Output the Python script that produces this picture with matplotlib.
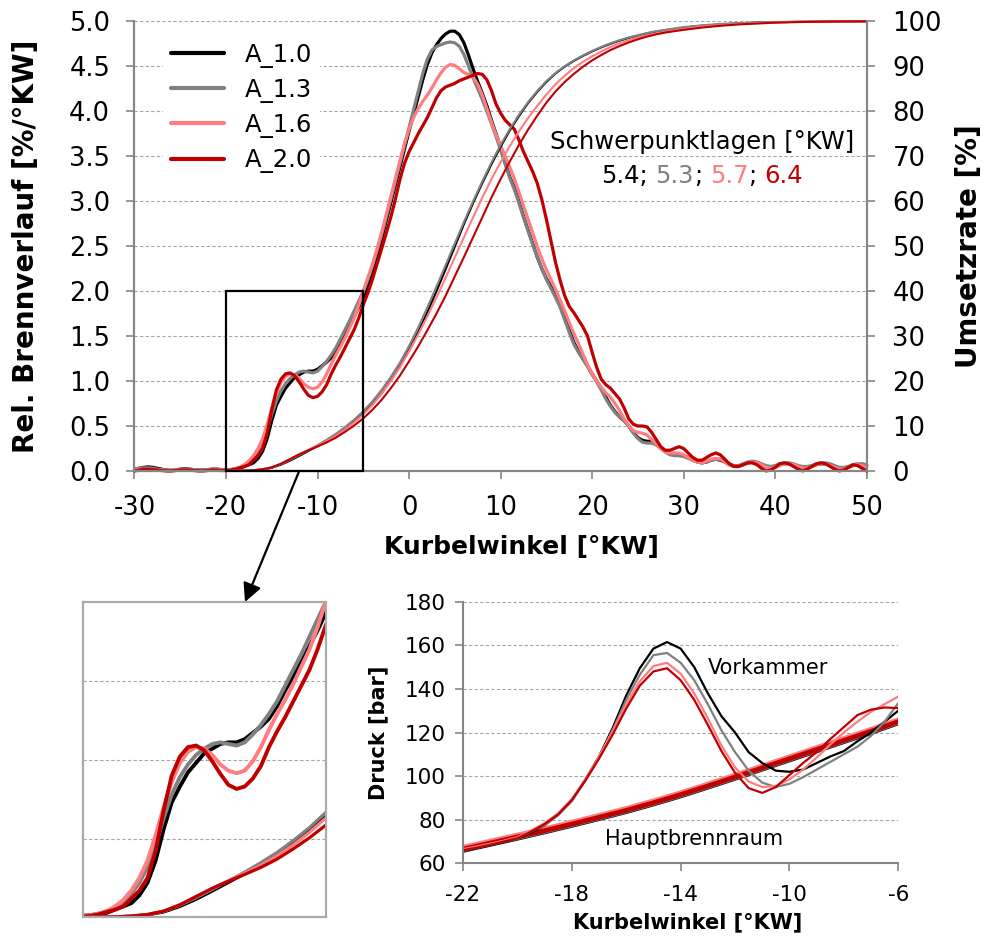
import numpy as np
import matplotlib
matplotlib.use("Agg")
import matplotlib.pyplot as plt
from matplotlib.patches import Rectangle, ConnectionPatch
from matplotlib.offsetbox import TextArea, HPacker, AnnotationBbox

plt.rcParams['font.family'] = ['DejaVu Sans']
plt.rcParams['axes.unicode_minus'] = False

# ---------------- data ----------------
LABELS = ["A_1.0", "A_1.3", "A_1.6", "A_2.0"]
COLORS = ["#000000", "#808080", "#FF7C80", "#C00000"]

# crank angle grid of the burn-rate curves (0.5 deg steps, -30 ... 50)
CA = np.arange(-30, 50.5, 0.5)

BR_10 = [0.02, 0.03, 0.04, 0.045, 0.04, 0.03, 0.02, 0.01, 0.005, 0.01,
         0.02, 0.025, 0.02, 0.015, 0.01, 0.01, 0.015, 0.02, 0.02, 0.015,
         0.01, 0.015, 0.02, 0.03, 0.05, 0.07, 0.09, 0.14, 0.22, 0.36,
         0.56, 0.73, 0.83, 0.92, 0.98, 1.04, 1.07, 1.10, 1.11, 1.11,
         1.13, 1.17, 1.21, 1.26, 1.34, 1.44, 1.53, 1.62, 1.72, 1.82,
         1.93, 2.06, 2.22, 2.40, 2.58, 2.78, 2.98, 3.18, 3.38, 3.58,
         3.78, 3.97, 4.16, 4.35, 4.52, 4.65, 4.74, 4.81, 4.86, 4.89,
         4.89, 4.85, 4.76, 4.62, 4.47, 4.33, 4.20, 4.06, 3.90, 3.75,
         3.60, 3.43, 3.27, 3.15, 3.00, 2.83, 2.68, 2.53, 2.38, 2.25,
         2.14, 2.05, 1.95, 1.85, 1.72, 1.57, 1.43, 1.33, 1.25, 1.17,
         1.08, 1.00, 0.92, 0.82, 0.73, 0.66, 0.60, 0.56, 0.50, 0.43,
         0.37, 0.34, 0.33, 0.33, 0.30, 0.26, 0.22, 0.19, 0.18, 0.18,
         0.17, 0.15, 0.12, 0.10, 0.09, 0.10, 0.12, 0.13, 0.12, 0.10,
         0.07, 0.05, 0.05, 0.07, 0.09, 0.10, 0.09, 0.07, 0.05, 0.04,
         0.05, 0.07, 0.08, 0.08, 0.07, 0.05, 0.04, 0.04, 0.05, 0.07,
         0.08, 0.08, 0.07, 0.05, 0.03, 0.03, 0.04, 0.06, 0.07, 0.07,
         0.06]
BR_13 = [0.02, 0.03, 0.035, 0.035, 0.03, 0.02, 0.015, 0.01, 0.01, 0.015,
         0.02, 0.02, 0.02, 0.015, 0.01, 0.01, 0.015, 0.02, 0.02, 0.015,
         0.01, 0.015, 0.025, 0.04, 0.06, 0.10, 0.15, 0.22, 0.32, 0.46,
         0.63, 0.78, 0.89, 0.97, 1.03, 1.07, 1.10, 1.11, 1.10, 1.09,
         1.11, 1.16, 1.22, 1.29, 1.37, 1.47, 1.57, 1.67, 1.78, 1.89,
         2.00, 2.13, 2.28, 2.45, 2.63, 2.82, 3.02, 3.22, 3.42, 3.62,
         3.82, 4.02, 4.22, 4.42, 4.58, 4.68, 4.72, 4.74, 4.76, 4.77,
         4.76, 4.72, 4.63, 4.50, 4.37, 4.25, 4.13, 4.00, 3.86, 3.72,
         3.57, 3.41, 3.26, 3.13, 2.98, 2.82, 2.67, 2.52, 2.38, 2.25,
         2.13, 2.03, 1.93, 1.82, 1.68, 1.54, 1.41, 1.32, 1.24, 1.16,
         1.07, 0.99, 0.90, 0.80, 0.72, 0.65, 0.60, 0.56, 0.50, 0.42,
         0.36, 0.32, 0.31, 0.31, 0.29, 0.25, 0.21, 0.18, 0.17, 0.17,
         0.16, 0.14, 0.12, 0.10, 0.09, 0.10, 0.12, 0.13, 0.13, 0.11,
         0.08, 0.06, 0.06, 0.08, 0.10, 0.11, 0.10, 0.08, 0.06, 0.05,
         0.06, 0.08, 0.09, 0.09, 0.08, 0.06, 0.05, 0.05, 0.06, 0.08,
         0.09, 0.09, 0.08, 0.06, 0.04, 0.04, 0.05, 0.07, 0.08, 0.08,
         0.07]
BR_16 = [0.01, 0.015, 0.02, 0.025, 0.02, 0.015, 0.01, 0.005, 0.005, 0.01,
         0.01, 0.015, 0.01, 0.01, 0.005, 0.005, 0.01, 0.01, 0.015, 0.01,
         0.01, 0.015, 0.025, 0.04, 0.07, 0.11, 0.17, 0.25, 0.36, 0.52,
         0.70, 0.86, 0.98, 1.05, 1.08, 1.07, 1.03, 0.97, 0.93, 0.915,
         0.93, 0.99, 1.08, 1.19, 1.29, 1.38, 1.48, 1.59, 1.70, 1.84,
         2.00, 2.15, 2.30, 2.47, 2.65, 2.85, 3.05, 3.25, 3.45, 3.64,
         3.80, 3.93, 4.03, 4.11, 4.18, 4.26, 4.35, 4.43, 4.49, 4.52,
         4.51, 4.47, 4.43, 4.41, 4.38, 4.30, 4.18, 4.03, 3.88, 3.74,
         3.62, 3.50, 3.38, 3.25, 3.10, 2.95, 2.80, 2.65, 2.50, 2.36,
         2.24, 2.13, 2.02, 1.90, 1.78, 1.65, 1.53, 1.42, 1.30, 1.18,
         1.08, 1.00, 0.93, 0.87, 0.82, 0.75, 0.67, 0.58, 0.50, 0.45,
         0.43, 0.42, 0.40, 0.35, 0.30, 0.25, 0.21, 0.20, 0.20, 0.20,
         0.18, 0.15, 0.12, 0.10, 0.09, 0.11, 0.13, 0.14, 0.13, 0.10,
         0.07, 0.05, 0.05, 0.07, 0.09, 0.10, 0.09, 0.07, 0.04, 0.03,
         0.04, 0.06, 0.08, 0.08, 0.07, 0.05, 0.03, 0.03, 0.05, 0.07,
         0.08, 0.08, 0.06, 0.04, 0.02, 0.02, 0.04, 0.06, 0.07, 0.06,
         0.04]
BR_20 = [0.00, 0.01, 0.02, 0.02, 0.015, 0.01, 0.005, 0.00, 0.00, 0.005,
         0.01, 0.01, 0.01, 0.005, 0.00, 0.00, 0.005, 0.01, 0.01, 0.005,
         0.005, 0.01, 0.02, 0.035, 0.05, 0.07, 0.12, 0.17, 0.25, 0.42,
         0.68, 0.90, 1.02, 1.08, 1.09, 1.06, 0.99, 0.91, 0.84, 0.815,
         0.83, 0.88, 0.96, 1.08, 1.18, 1.27, 1.37, 1.47, 1.57, 1.70,
         1.85, 1.98, 2.13, 2.30, 2.47, 2.64, 2.82, 3.02, 3.24, 3.42,
         3.55, 3.65, 3.75, 3.84, 3.93, 4.04, 4.15, 4.23, 4.27, 4.29,
         4.31, 4.34, 4.36, 4.38, 4.40, 4.42, 4.41, 4.35, 4.23, 4.08,
         3.98, 3.90, 3.85, 3.80, 3.68, 3.55, 3.44, 3.33, 3.20, 3.02,
         2.80, 2.56, 2.32, 2.12, 1.95, 1.83, 1.76, 1.68, 1.60, 1.50,
         1.32, 1.15, 1.02, 0.96, 0.92, 0.86, 0.80, 0.70, 0.58, 0.52,
         0.50, 0.50, 0.49, 0.43, 0.35, 0.27, 0.23, 0.23, 0.25, 0.27,
         0.25, 0.20, 0.15, 0.12, 0.12, 0.15, 0.18, 0.20, 0.18, 0.13,
         0.08, 0.05, 0.05, 0.07, 0.09, 0.09, 0.07, 0.03, 0.00, 0.01,
         0.04, 0.08, 0.09, 0.08, 0.05, 0.02, 0.00, 0.02, 0.05, 0.08,
         0.09, 0.08, 0.05, 0.02, 0.00, 0.01, 0.04, 0.07, 0.06, 0.03,
         0.00]

# cumulative heat release (Umsetzrate, %)
CA_CUM = [-30, -25, -20,
          -19, -18, -17, -16, -15, -14, -13, -12, -11, -10,
          -9, -8, -7, -6, -5, -4, -3, -2, -1, 0,
          1, 2, 3, 4, 5, 6, 7, 8, 9, 10,
          11, 12, 13, 14, 15, 16, 17, 18, 19, 20,
          21, 22, 23, 24, 25, 26, 27, 28, 29, 30,
          32, 34, 36, 38, 40, 43, 46, 50]
UR_10 = [0, 0, 0,
         0.02, 0.06, 0.15, 0.32, 0.70, 1.40, 2.30, 3.35, 4.45, 5.55,
         6.70, 7.95, 9.40, 11.0, 12.8, 14.9, 17.3, 20.1, 23.3, 26.9,
         30.9, 35.3, 40.0, 44.9, 49.9, 54.9, 59.6, 64.0, 68.2, 72.1,
         75.7, 78.9, 81.8, 84.3, 86.5, 88.4, 89.9, 91.2, 92.3, 93.3,
         94.2, 95.0, 95.7, 96.3, 96.8, 97.3, 97.7, 98.0, 98.3, 98.6,
         99.0, 99.3, 99.55, 99.7, 99.8, 99.9, 99.95, 100]
UR_13 = [0, 0, 0,
         0.02, 0.07, 0.17, 0.38, 0.80, 1.55, 2.50, 3.55, 4.65, 5.75,
         6.95, 8.25, 9.75, 11.4, 13.3, 15.5, 18.0, 20.9, 24.1, 27.8,
         31.9, 36.4, 41.0, 45.8, 50.6, 55.4, 60.0, 64.4, 68.6, 72.5,
         76.0, 79.2, 82.0, 84.5, 86.7, 88.5, 90.0, 91.3, 92.4, 93.4,
         94.3, 95.1, 95.8, 96.4, 96.9, 97.4, 97.8, 98.1, 98.4, 98.7,
         99.1, 99.4, 99.6, 99.75, 99.85, 99.9, 99.95, 100]
UR_16 = [0, 0, 0,
         0.02, 0.07, 0.17, 0.38, 0.80, 1.60, 2.65, 3.70, 4.65, 5.60,
         6.60, 7.80, 9.20, 10.8, 12.6, 14.7, 17.2, 20.0, 23.1, 26.6,
         30.4, 34.4, 38.6, 43.0, 47.5, 52.0, 56.4, 60.8, 64.9, 68.7,
         72.2, 75.5, 78.5, 81.2, 83.7, 86.0, 87.9, 89.6, 91.0, 92.2,
         93.3, 94.3, 95.1, 95.8, 96.4, 96.9, 97.3, 97.7, 98.0, 98.3,
         98.8, 99.1, 99.4, 99.6, 99.75, 99.9, 99.95, 100]
UR_20 = [0, 0, 0,
         0.02, 0.07, 0.17, 0.37, 0.80, 1.60, 2.65, 3.70, 4.60, 5.45,
         6.35, 7.40, 8.70, 10.1, 11.7, 13.6, 15.8, 18.4, 21.2, 24.4,
         27.7, 31.3, 35.0, 39.0, 43.3, 47.6, 52.0, 56.4, 60.8, 64.9,
         68.8, 72.5, 75.9, 79.0, 81.9, 84.4, 86.5, 88.3, 89.9, 91.3,
         92.5, 93.6, 94.5, 95.3, 96.0, 96.6, 97.1, 97.5, 97.8, 98.1,
         98.6, 99.0, 99.3, 99.5, 99.7, 99.85, 99.95, 100]

SCHWERPUNKT = ["5.4", "5.3", "5.7", "6.4"]

# pressure traces
P_CA = np.arange(-22, -5.5, 0.5)
VK_10 = [65.8, 67.0, 68.3, 69.8, 71.5, 74.0, 77.5, 82.5, 89.0, 98.5,
         109.0, 122.0, 137.0, 149.5, 158.5, 161.5, 158.5, 150.0, 138.0, 127.5,
         120.0, 111.0, 106.0, 102.5, 102.0, 103.0, 106.0, 109.0, 111.5, 116.0,
         120.0, 125.0, 130.0]
VK_13 = [66.0, 67.2, 68.5, 70.0, 71.5, 74.5, 77.5, 82.0, 88.5, 98.0,
         108.5, 121.0, 135.0, 146.5, 155.5, 156.5, 152.0, 144.0, 133.0, 121.0,
         111.0, 102.5, 97.0, 95.0, 96.5, 99.5, 103.0, 106.5, 110.0, 113.5,
         118.5, 125.0, 133.5]
VK_16 = [66.5, 67.7, 69.0, 70.4, 72.0, 75.0, 78.5, 83.0, 89.5, 98.5,
         109.0, 120.5, 133.0, 143.5, 150.5, 152.0, 147.0, 138.0, 126.5, 114.0,
         104.0, 97.5, 95.0, 95.5, 98.5, 103.0, 108.5, 114.5, 120.0, 125.0,
         129.5, 133.0, 136.5]
VK_20 = [66.0, 67.2, 68.5, 70.0, 71.5, 74.5, 78.0, 82.5, 89.0, 98.0,
         108.0, 119.0, 131.0, 141.5, 148.0, 149.5, 144.0, 135.0, 123.5, 111.5,
         101.5, 94.5, 92.3, 95.0, 100.5, 106.0, 111.0, 117.0, 122.5, 128.0,
         130.5, 131.5, 131.2]
P_CA_HB = np.arange(-22, -5, 1.0)
HB_10 = [65.9, 68.7, 71.5, 74.4, 77.4, 80.5, 83.7, 87.2, 90.9, 94.9, 99.0, 103.2, 107.4, 111.6, 115.8, 120.0, 124.4]
HB_13 = [66.2, 69.0, 71.8, 74.7, 77.7, 80.8, 84.0, 87.5, 91.2, 95.2, 99.3, 103.5, 107.7, 111.9, 116.1, 120.3, 124.7]
HB_16 = [67.4, 70.2, 73.0, 75.9, 78.9, 82.0, 85.2, 88.7, 92.4, 96.4, 100.5, 104.7, 108.9, 113.1, 117.3, 121.5, 125.9]
HB_20 = [66.5, 69.3, 72.1, 75.0, 78.0, 81.1, 84.3, 87.8, 91.5, 95.5, 99.6, 103.8, 108.0, 112.2, 116.4, 120.6, 125.0]

BR = [BR_10, BR_13, BR_16, BR_20]
UR = [UR_10, UR_13, UR_16, UR_20]
VK = [VK_10, VK_13, VK_16, VK_20]
HB = [HB_10, HB_13, HB_16, HB_20]

# ---------------- style ----------------
SPINE = "#868686"
GRID = "#a6a6a6"
TICK_FS = 18.5
XLAB_FS = 18
YLAB_FS = 20
P_FS = 15.5

fig = plt.figure(figsize=(9.83, 9.38), dpi=100)

# ---- main chart ----
ax = fig.add_axes([0.1368, 0.4979, 0.7449, 0.4794])
ax2 = ax.twinx()

for y, c, lab in zip(BR, COLORS, LABELS):
    ax.plot(CA, y, color=c, lw=2.3, label=lab, clip_on=False, solid_capstyle='round')
for y, c in zip(UR, COLORS):
    ax2.plot(CA_CUM, y, color=c, lw=1.5, clip_on=False)

ax.set_xlim(-30, 50)
ax.set_ylim(0, 5)
ax2.set_ylim(0, 100)
ax.set_xticks(np.arange(-30, 51, 10))
ax.set_yticks(np.arange(0, 5.01, 0.5))
ax.set_yticklabels([f"{v:.1f}" for v in np.arange(0, 5.01, 0.5)])
ax2.set_yticks(np.arange(0, 101, 10))
ax.grid(axis='y', color=GRID, linestyle=(0, (3, 2)), lw=0.8)
ax.set_axisbelow(True)

for a in (ax, ax2):
    for s in a.spines.values():
        s.set_color(SPINE)
        s.set_linewidth(1.5)
    a.spines['top'].set_visible(False)
    a.tick_params(colors=SPINE, labelcolor='black', labelsize=TICK_FS,
                  length=5.5, width=1.2, direction='out')
ax.tick_params(axis='x', pad=12)
ax.tick_params(axis='y', pad=12)
ax2.tick_params(axis='y', pad=13)

ax.set_xlabel("Kurbelwinkel [°KW]", fontsize=XLAB_FS, fontweight='bold')
ax.xaxis.set_label_coords(0.529, -0.142)
ax.set_ylabel("Rel. Brennverlauf [%/°KW]", fontsize=YLAB_FS, fontweight='bold')
ax.yaxis.set_label_coords(-0.129, 0.5)
ax2.set_ylabel("Umsetzrate [%]", fontsize=YLAB_FS, fontweight='bold')
ax2.yaxis.set_label_coords(1.121, 0.5)

leg = ax.legend(loc='upper left', bbox_to_anchor=(0.023, 0.996), frameon=True,
                fontsize=17.5, handlelength=2.2, handletextpad=0.85,
                labelspacing=0.42, borderpad=0.3)
leg.get_frame().set_edgecolor('none')
leg.get_frame().set_facecolor('white')
leg.get_frame().set_alpha(1)
for h in leg.legend_handles:
    h.set_linewidth(3.0)

ax2.text(32.0, 3.656, "Schwerpunktlagen [°KW]", transform=ax.transData,
         ha='center', va='center', fontsize=17.5,
         bbox=dict(facecolor='white', edgecolor='none', pad=1.5))
space = 0.318 * 17.5
parts = [TextArea(SCHWERPUNKT[0] + ";", textprops=dict(color=COLORS[0], fontsize=17.5)),
         HPacker(children=[TextArea(SCHWERPUNKT[1], textprops=dict(color=COLORS[1], fontsize=17.5)),
                           TextArea(";", textprops=dict(color='black', fontsize=17.5))], sep=0, pad=0),
         HPacker(children=[TextArea(SCHWERPUNKT[2], textprops=dict(color=COLORS[2], fontsize=17.5)),
                           TextArea(";", textprops=dict(color='black', fontsize=17.5))], sep=0, pad=0),
         TextArea(SCHWERPUNKT[3], textprops=dict(color=COLORS[3], fontsize=17.5))]
pack = HPacker(children=parts, sep=space, pad=0, align='baseline')
ab = AnnotationBbox(pack, (32.0, 3.278), xycoords=ax.transData, frameon=False,
                    box_alignment=(0.5, 0.5), pad=0)
ax2.add_artist(ab)

rect = Rectangle((-20, 0), 15, 2, fill=False, ec='black', lw=1.6, zorder=10,
                 clip_on=False)
ax2.add_patch(rect)
rect.set_transform(ax.transData)

# ---- zoom inset ----
ax_in = fig.add_axes([0.0841, 0.0219, 0.2472, 0.3363])
ax_in2 = ax_in.twinx()
for y, c in zip(UR, COLORS):
    ax_in2.plot(CA_CUM, y, color=c, lw=2.3)
for y, c in zip(BR, COLORS):
    ax_in.plot(CA, y, color=c, lw=2.8)
ax_in.set_xlim(-20, -5)
ax_in.set_ylim(0, 2)
ax_in2.set_ylim(0, 40)
ax_in.set_yticks([0.5, 1.0, 1.5])
ax_in.set_xticks([])
ax_in2.set_yticks([])
ax_in.tick_params(length=0, labelleft=False, labelbottom=False)
ax_in.grid(axis='y', color=GRID, linestyle=(0, (3, 2)), lw=0.8)
ax_in.set_axisbelow(True)
for a in (ax_in, ax_in2):
    for s in a.spines.values():
        s.set_color("#aaaaaa")
        s.set_linewidth(1.5)

arrow = ConnectionPatch(xyA=(-12.0, 0.0), coordsA=ax.transData,
                        xyB=(0.668, 1.0), coordsB=ax_in.transAxes,
                        arrowstyle='-|>', mutation_scale=28, lw=1.6,
                        color='black', zorder=20)
fig.add_artist(arrow)

# ---- pressure chart ----
axp = fig.add_axes([0.4710, 0.0796, 0.4428, 0.2789])
for y, c in zip(HB, COLORS):
    axp.plot(P_CA_HB, y, color=c, lw=3.4)
for y, c in zip(VK, COLORS):
    axp.plot(P_CA, y, color=c, lw=1.6)
axp.set_xlim(-22, -6)
axp.set_ylim(60, 180)
axp.set_xticks([-22, -18, -14, -10, -6])
axp.set_yticks(np.arange(60, 181, 20))
axp.grid(axis='y', color=GRID, linestyle=(0, (3, 2)), lw=0.8)
axp.set_axisbelow(True)
axp.spines['top'].set_visible(False)
axp.spines['right'].set_visible(False)
for s in ('left', 'bottom'):
    axp.spines[s].set_color(SPINE)
    axp.spines[s].set_linewidth(1.5)
axp.tick_params(colors=SPINE, labelcolor='black', labelsize=P_FS,
                length=5.5, width=1.2, direction='out')
axp.tick_params(axis='x', pad=10)
axp.tick_params(axis='y', pad=7)
axp.set_xlabel("Kurbelwinkel [°KW]", fontsize=15, fontweight='bold')
axp.xaxis.set_label_coords(0.515, -0.186)
axp.set_ylabel("Druck [bar]", fontsize=15, fontweight='bold')
axp.yaxis.set_label_coords(-0.172, 0.5)
axp.text(-10.8, 149.6, "Vorkammer", fontsize=15, ha='center', va='center')
axp.text(-13.5, 71.1, "Hauptbrennraum", fontsize=15, ha='center', va='center')

fig.savefig("out.png", dpi=100)
